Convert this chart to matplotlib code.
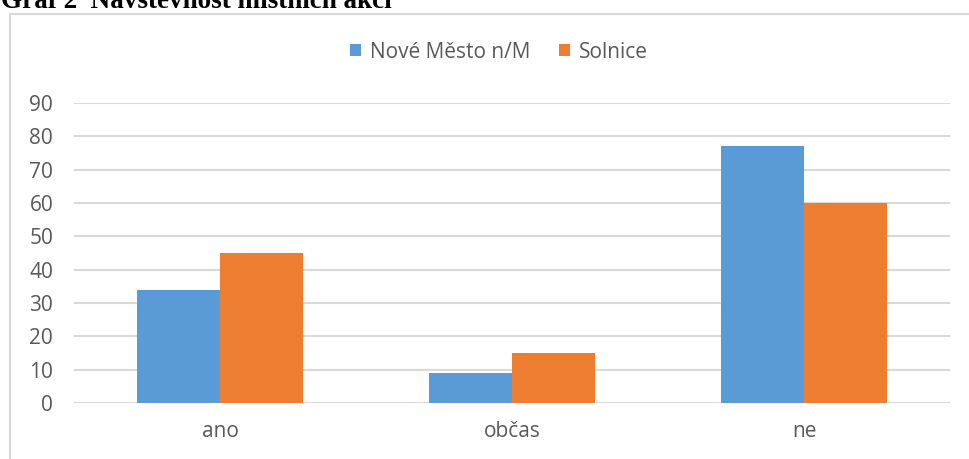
import matplotlib.pyplot as plt
import numpy as np

categories = ['ano', 'občas', 'ne']
nove_mesto = [34, 9, 77]
solnice = [45, 15, 60]
series_names = ['Nové Město n/M', 'Solnice']
yticks = [0, 10, 20, 30, 40, 50, 60, 70, 80, 90]

W, H = 970, 459
blue = '#5b9bd5'
orange = '#ed7d31'
grid_c = '#d9d9d9'
text_c = '#595959'
font = 'Open Sans'
fs = 15

fig = plt.figure(figsize=(W / 100, H / 100), dpi=100)

# chart frame (cut off at right and bottom)
frame = plt.Line2D([10.5 / W, 10.5 / W, 1.0], [0.0, 1 - 13.5 / H, 1 - 13.5 / H],
                   transform=fig.transFigure, color=grid_c, lw=1.5)
fig.add_artist(frame)

# title, mostly cut off at the top
fig.text(1 / W, 1 - 7.5 / H, 'Graf 2  Návštěvnost místních akcí', fontsize=19.5,
         fontweight='bold', family='Liberation Serif', ha='left', va='baseline')

ax = fig.add_axes([74 / W, (H - 403) / H, (950 - 74) / W, 300 / H])
x = np.arange(len(categories))
bw = 0.284
ax.bar(x - bw / 2, nove_mesto, bw, color=blue, label=series_names[0], zorder=3)
ax.bar(x + bw / 2, solnice, bw, color=orange, label=series_names[1], zorder=3)

ax.set_xlim(-0.5, len(categories) - 0.5)
ax.set_ylim(0, 90)
ax.set_yticks(yticks)
ax.set_xticks(x)
ax.set_xticklabels(categories)
ax.yaxis.grid(True, color=grid_c, lw=1.5, zorder=0)
ax.set_axisbelow(True)
for s in ax.spines.values():
    s.set_visible(False)
ax.tick_params(length=0, labelsize=fs, labelcolor=text_c)
ax.tick_params(axis='y', pad=15)
ax.tick_params(axis='x', pad=13)
for lab in ax.get_xticklabels() + ax.get_yticklabels():
    lab.set_family(font)

leg = fig.legend(loc='center', bbox_to_anchor=(499 / W, 1 - 52 / H), ncol=2, frameon=False,
                 handlelength=0.53, handleheight=0.53, handletextpad=0.4, columnspacing=1.4,
                 prop={'family': font, 'size': fs})
for t in leg.get_texts():
    t.set_color(text_c)

fig.savefig('out.png', dpi=100)
